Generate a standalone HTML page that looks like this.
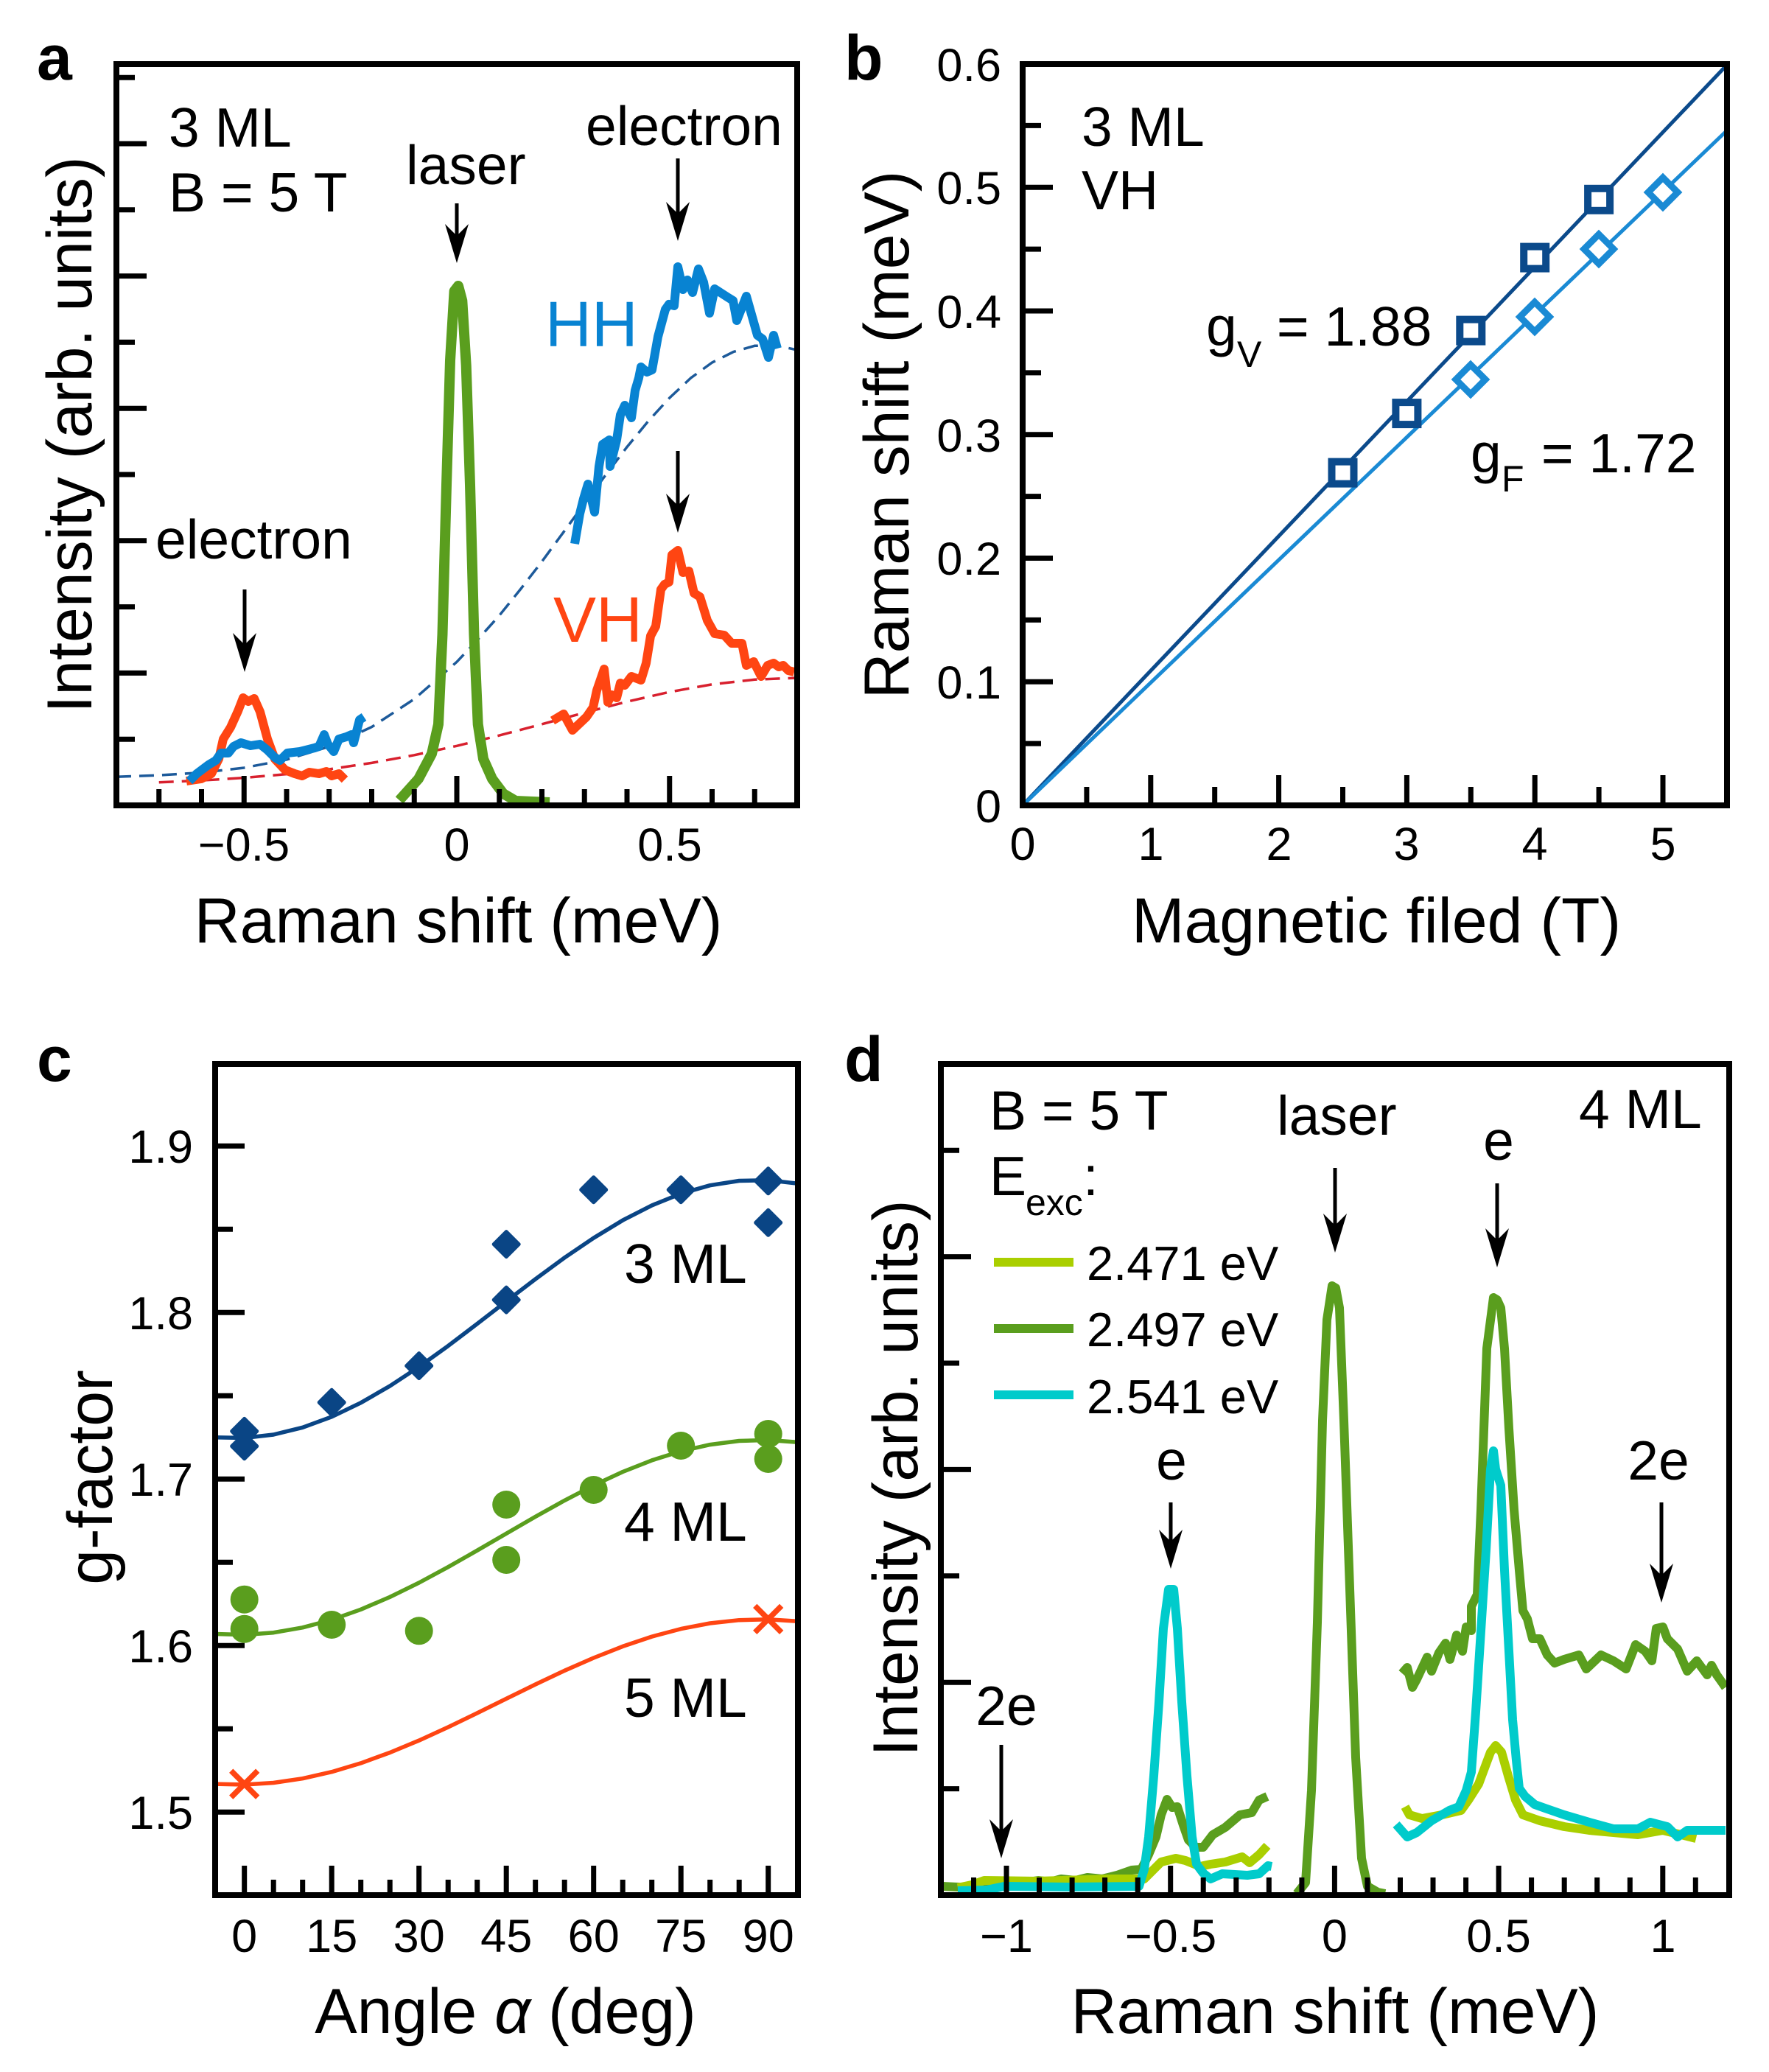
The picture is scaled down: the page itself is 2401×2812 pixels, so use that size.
<!DOCTYPE html>
<html><head><meta charset="utf-8"><style>
html,body{margin:0;padding:0;background:#fff;}
svg{display:block;}
text{font-family:"Liberation Sans",Arial,sans-serif;fill:#000;}
</style></head><body>
<svg width="2401" height="2812" viewBox="0 0 2401 2812" xmlns="http://www.w3.org/2000/svg">
<rect width="2401" height="2812" fill="#fff"/>

<!-- ================= PANEL A ================= -->
<text x="50" y="108" font-size="86" font-weight="bold">a</text>
<g fill="none" stroke-width="3.5" stroke-dasharray="20 11">
<polyline stroke="#1d5a9a" points="158,1054.2 215.75,1052.2 273.5,1048.5 331.25,1042 389,1030.9 446.75,1013.2 504.5,986.6 562.25,948.7 620,898.3 648.9,867.5 677.75,835.3 706.6,799.5 735.5,762.1 764.4,722.8 793.25,683.5 822.1,644.5 851,606.6 879.9,571.5 908.75,540 937.6,513 966.5,492 995.4,477.5 1024.25,469.3 1053.1,468.6 1082,475"/>
<polyline stroke="#d8202e" points="215.75,1061.7 273.5,1059.2 331.25,1055.6 389,1050.6 446.75,1044 504.5,1035.4 562.25,1024.8 620,1012.3 677.75,998.1 735.5,982.8 793.25,967.2 851,952.3 908.75,939.1 966.5,928.8 1024.25,922.3 1082,920"/>
</g>
<g fill="none" stroke-width="12" stroke-linejoin="round" stroke-linecap="butt">
<polyline stroke="#ff4512" points="253,1060 273,1057 287,1050 297,1030 303,1003 313,987 323,965 330,947 337,952 345,948 353,966 363,1003 373,1030 387,1045 400,1050 410,1053 420,1048 433,1050 443,1047 450,1053 460,1050 468,1058"/>
<polyline stroke="#ff4512" points="750,978 765,969 777,991 796,973 805,960 810,937 820,908 825,953 830,943 837,947 842,927 848,930 857,918 870,923 877,900 883,863 890,850 897,800 902,793 908,790 912,753 920,747 927,777 935,775 942,805 950,810 960,842 970,860 983,862 993,873 1007,873 1013,903 1023,898 1033,918 1042,903 1050,900 1057,905 1063,903 1070,910 1078,912"/>
<polyline stroke="#0883d2" points="257,1060 267,1050 283,1038 293,1032 300,1022 310,1022 317,1013 327,1008 340,1012 353,1010 363,1018 373,1028 380,1032 390,1022 407,1020 427,1015 433,1013 440,997 445,1010 453,1020 460,1003 470,1000 477,997 480,1008 488,977 494,973"/>
<polyline stroke="#0883d2" points="780,738 787,697 792,677 798,657 807,695 813,633 818,603 827,597 828,633 837,597 842,563 848,550 857,567 862,530 867,513 870,498 878,505 885,502 893,457 903,420 908,413 915,415 920,362 927,393 933,380 940,397 948,365 955,383 963,425 970,392 987,403 995,408 1000,435 1013,402 1028,455 1035,460 1043,485 1050,455 1055,473"/>
<polyline stroke="#5a9e1e" stroke-width="14" points="542,1086 568,1057 586,1023 595,983 600.5,861 606,658 611,489 616.6,395 622,388 627.3,408 632.7,496 638,658 643.4,861 648.7,983 656,1030 668,1057 683,1077 700,1087 746,1089"/>
</g>
<!-- frame & ticks -->
<g stroke="#000" stroke-width="7" fill="none">
<path d="M215.75,1093v-22M273.5,1093v-22M331.25,1093v-40M389,1093v-22M446.75,1093v-22M504.5,1093v-22M562.25,1093v-22M620,1093v-40M677.75,1093v-22M735.5,1093v-22M793.25,1093v-22M851,1093v-22M908.75,1093v-40M966.5,1093v-22M1024.25,1093v-22"/>
<path d="M158,1003.2h25M158,913.4h41M158,823.6h25M158,733.8h41M158,644h25M158,554.2h41M158,464.4h25M158,374.6h41M158,284.8h25M158,195h41M158,105.2h25"/>
<rect x="158" y="87" width="924" height="1006" stroke-width="8"/>
</g>
<g font-size="63" text-anchor="middle">
<text x="331" y="1168">−0.5</text><text x="620" y="1168">0</text><text x="909" y="1168">0.5</text>
</g>
<text x="622" y="1279" font-size="86" text-anchor="middle">Raman shift (meV)</text>
<text transform="translate(124,590) rotate(-90)" font-size="86" text-anchor="middle">Intensity (arb. units)</text>
<g font-size="75">
<text x="229" y="199">3 ML</text>
<text x="229" y="287">B = 5 T</text>
<text x="551" y="250">laser</text>
<text x="795" y="197">electron</text>
<text x="211" y="758">electron</text>
</g>
<text x="740" y="470" font-size="87" fill="#0883d2" style="fill:#0883d2">HH</text>
<text x="751" y="871" font-size="87" fill="#ff4512" style="fill:#ff4512">VH</text>
<g stroke="#000" stroke-width="5">
<path d="M620,276V330M920,215V300M920,612V696M332,800V885"/>
</g>
<g fill="#000">
<polygon points="620,357 604,304 620,320 636,304"/>
<polygon points="920,327 904,274 920,290 936,274"/>
<polygon points="920,723 904,670 920,686 936,670"/>
<polygon points="332,912 316,859 332,875 348,859"/>
</g>

<!-- ================= PANEL B ================= -->
<text x="1146" y="108" font-size="86" font-weight="bold">b</text>
<g fill="none" stroke-width="5">
<line x1="1388" y1="1093" x2="2344" y2="88" stroke="#0b4a8b"/>
<line x1="1388" y1="1093" x2="2344" y2="177" stroke="#1a8ad4"/>
</g>
<g fill="#fff" stroke="#0b4a8b" stroke-width="10">
<rect x="1807.5" y="626.6" width="30" height="30"/>
<rect x="1894.4" y="546.1" width="30" height="30"/>
<rect x="1981.3" y="433.6" width="30" height="30"/>
<rect x="2068.2" y="334.6" width="30" height="30"/>
<rect x="2155.1" y="255.8" width="30" height="30"/>
</g>
<g fill="#fff" stroke="#1a8ad4" stroke-width="9" stroke-linejoin="miter">
<polygon points="1996,495 2016,515 1996,535 1976,515"/>
<polygon points="2083,410 2103,430 2083,450 2063,430"/>
<polygon points="2170,318 2190,338 2170,358 2150,338"/>
<polygon points="2257,241 2277,261 2257,281 2237,261"/>
</g>
<g stroke="#000" stroke-width="7" fill="none">
<path d="M1474.9,1093v-25M1561.8,1093v-41M1648.7,1093v-25M1735.6,1093v-41M1822.5,1093v-25M1909.4,1093v-41M1996.3,1093v-25M2083.2,1093v-41M2170.1,1093v-25M2257,1093v-41"/>
<path d="M1388,1009.1h25M1388,925.25h41M1388,841.4h25M1388,757.5h41M1388,673.6h25M1388,589.75h41M1388,505.9h25M1388,422h41M1388,338.1h25M1388,254.25h41M1388,170.4h25"/>
<rect x="1388" y="87" width="956" height="1006" stroke-width="8"/>
</g>
<g font-size="63" text-anchor="end">
<text x="1359" y="1116">0</text><text x="1359" y="948">0.1</text><text x="1359" y="780">0.2</text><text x="1359" y="613">0.3</text><text x="1359" y="445">0.4</text><text x="1359" y="277">0.5</text><text x="1359" y="110">0.6</text>
</g>
<g font-size="63" text-anchor="middle">
<text x="1388" y="1167">0</text><text x="1562" y="1167">1</text><text x="1736" y="1167">2</text><text x="1909" y="1167">3</text><text x="2083" y="1167">4</text><text x="2257" y="1167">5</text>
</g>
<text x="1868" y="1279" font-size="86" text-anchor="middle">Magnetic filed (T)</text>
<text transform="translate(1233,590) rotate(-90)" font-size="86" text-anchor="middle">Raman shift (meV)</text>
<g font-size="75">
<text x="1468" y="198">3 ML</text>
<text x="1468" y="284">VH</text>
<text x="1637" y="469">g</text>
<text x="1712" y="469" xml:space="preserve"> = 1.88</text>
<text x="1996" y="641">g</text>
<text x="2071" y="641" xml:space="preserve"> = 1.72</text>
</g>
<text x="1679" y="498" font-size="50">V</text>
<text x="2038" y="667" font-size="50">F</text>

<!-- ================= PANEL C ================= -->
<text x="50" y="1467" font-size="86" font-weight="bold">c</text>
<g fill="none" stroke-width="5.5" stroke-linejoin="round">
<polyline stroke="#0a4585" points="292.2,1950.7 331.7,1951.5 371.2,1947 410.7,1937.3 450.2,1922.8 489.7,1903.8 529.2,1881 568.7,1855 608.2,1826.6 647.7,1796.6 687.2,1766.1 726.7,1735.9 766.2,1706.9 805.7,1680.1 845.2,1656.1 884.7,1635.9 924.2,1619.9 963.7,1608.7 1003.2,1602.5 1042.7,1601.7 1082.2,1606.2"/>
<polyline stroke="#5a9e1e" points="292.2,2217.5 331.7,2218.6 371.2,2215.7 410.7,2208.8 450.2,2198.3 489.7,2184.3 529.2,2167.4 568.7,2148 608.2,2126.7 647.7,2104.2 687.2,2081.2 726.7,2058.4 766.2,2036.4 805.7,2015.9 845.2,1997.5 884.7,1981.9 924.2,1969.5 963.7,1960.6 1003.2,1955.5 1042.7,1954.4 1082.2,1957.3"/>
<polyline stroke="#ff4512" points="292.2,2421.1 331.7,2422 371.2,2419.5 410.7,2413.7 450.2,2404.7 489.7,2392.9 529.2,2378.5 568.7,2362.1 608.2,2344 647.7,2324.9 687.2,2305.4 726.7,2286 766.2,2267.3 805.7,2250 845.2,2234.4 884.7,2221.1 924.2,2210.6 963.7,2203 1003.2,2198.7 1042.7,2197.8 1082.2,2200.3"/>
</g>
<g fill="#0a4585" stroke="#0a4585" stroke-width="5" stroke-linejoin="round">
<polygon points="331.7,1925.4 348.7,1942.4 331.7,1959.4 314.7,1942.4"/>
<polygon points="331.7,1945.7 348.7,1962.7 331.7,1979.7 314.7,1962.7"/>
<polygon points="450.2,1886.3 467.2,1903.3 450.2,1920.3 433.2,1903.3"/>
<polygon points="568.7,1836.6 585.7,1853.6 568.7,1870.6 551.7,1853.6"/>
<polygon points="687.2,1671.6 704.2,1688.6 687.2,1705.6 670.2,1688.6"/>
<polygon points="687.2,1747.1 704.2,1764.1 687.2,1781.1 670.2,1764.1"/>
<polygon points="805.7,1597.7 822.7,1614.7 805.7,1631.7 788.7,1614.7"/>
<polygon points="924.2,1597.7 941.2,1614.7 924.2,1631.7 907.2,1614.7"/>
<polygon points="1042.7,1585.8 1059.7,1602.8 1042.7,1619.8 1025.7,1602.8"/>
<polygon points="1042.7,1642.3 1059.7,1659.3 1042.7,1676.3 1025.7,1659.3"/>
</g>
<g fill="#5a9e1e">
<circle cx="331.7" cy="2170.7" r="19"/><circle cx="331.7" cy="2210.7" r="19"/>
<circle cx="450.2" cy="2205" r="19"/><circle cx="568.7" cy="2213.3" r="19"/>
<circle cx="687.2" cy="2042" r="19"/><circle cx="687.2" cy="2117" r="19"/>
<circle cx="805.7" cy="2022" r="19"/><circle cx="924.2" cy="1962" r="19"/>
<circle cx="1042.7" cy="1946" r="19"/><circle cx="1042.7" cy="1980" r="19"/>
</g>
<g stroke="#ff4512" stroke-width="7.5" stroke-linecap="butt">
<path d="M313.7,2403.2L349.7,2439.2M349.7,2403.2L313.7,2439.2"/>
<path d="M1024.7,2179.4L1060.7,2215.4M1060.7,2179.4L1024.7,2215.4"/>
</g>
<g stroke="#000" stroke-width="7" fill="none">
<path d="M331.7,2572v-40M371.2,2572v-21M410.7,2572v-21M450.2,2572v-40M489.7,2572v-21M529.2,2572v-21M568.7,2572v-40M608.2,2572v-21M647.7,2572v-21M687.2,2572v-40M726.7,2572v-21M766.2,2572v-21M805.7,2572v-40M845.2,2572v-21M884.7,2572v-21M924.2,2572v-40M963.7,2572v-21M1003.2,2572v-21M1042.7,2572v-40"/>
<path d="M292,2459.3h40M292,2346.3h24M292,2233.3h40M292,2120.3h24M292,2007.3h40M292,1894.3h24M292,1781.3h40M292,1668.3h24M292,1555.3h40"/>
<rect x="292" y="1444" width="791" height="1128" stroke-width="8"/>
</g>
<g font-size="63" text-anchor="end">
<text x="262" y="2482">1.5</text><text x="262" y="2256">1.6</text><text x="262" y="2030">1.7</text><text x="262" y="1804">1.8</text><text x="262" y="1578">1.9</text>
</g>
<g font-size="63" text-anchor="middle">
<text x="331.7" y="2649">0</text><text x="450.2" y="2649">15</text><text x="568.7" y="2649">30</text><text x="687.2" y="2649">45</text><text x="805.7" y="2649">60</text><text x="924.2" y="2649">75</text><text x="1042.7" y="2649">90</text>
</g>
<text x="686" y="2759" font-size="86" text-anchor="middle">Angle <tspan font-style="italic">α</tspan> (deg)</text>
<text transform="translate(152,2005) rotate(-90)" font-size="86" text-anchor="middle">g-factor</text>
<g font-size="75">
<text x="847" y="1741">3 ML</text>
<text x="847" y="2091">4 ML</text>
<text x="847" y="2330">5 ML</text>
</g>

<!-- ================= PANEL D ================= -->
<text x="1146" y="1467" font-size="86" font-weight="bold">d</text>
<g fill="none" stroke-width="12" stroke-linejoin="round">
<!-- dark green -->
<polyline stroke="#5a9e1e" points="1279,2560 1300,2561 1319,2562 1336,2553 1355,2556 1370,2553 1390,2555 1409,2552 1425,2554 1440,2550 1460,2552 1476,2548 1496,2550 1516,2545 1536,2538 1549,2537 1559,2517 1569,2493 1576,2463 1584,2442 1591,2453 1598,2452 1606,2477 1613,2497 1623,2507 1633,2507 1646,2490 1663,2480 1683,2463 1699,2460 1709,2443 1720,2438"/>
<polyline stroke="#5a9e1e" points="1760,2570 1772,2555 1780,2430 1788,2202 1795,1928 1801,1791 1808,1745 1813,1748 1818,1775 1824,1928 1832,2156 1840,2385 1848,2522 1856,2560 1870,2568 1880,2570"/>
<polyline stroke="#5a9e1e" points="1903,2271 1910,2263 1917,2290 1923,2279 1937,2249 1943,2268 1953,2243 1962,2230 1968,2252 1977,2219 1985,2241 1990,2208 1997,2213 1997,2180 2005,2164 2010,2049 2018,1830 2027,1761 2032,1764 2037,1775 2042,1830 2048,1939 2055,2049 2062,2131 2067,2186 2073,2197 2080,2224 2090,2224 2100,2246 2110,2257 2123,2252 2143,2246 2153,2265 2173,2246 2190,2254 2207,2265 2220,2232 2233,2241 2242,2254 2248,2210 2257,2208 2263,2224 2277,2238 2290,2268 2303,2254 2317,2273 2323,2260 2330,2273 2342,2290"/>
<!-- yellow-green -->
<polyline stroke="#aacf00" points="1300,2562 1319,2558 1336,2552 1409,2553 1509,2550 1553,2550 1566,2537 1576,2527 1596,2522 1609,2525 1629,2533 1643,2530 1663,2527 1686,2520 1696,2528 1709,2517 1720,2505"/>
<polyline stroke="#aacf00" points="1907,2452 1913,2463 1930,2468 1957,2463 1983,2457 1993,2443 2007,2421 2017,2394 2023,2378 2030,2369 2038,2378 2047,2410 2057,2443 2067,2463 2090,2471 2123,2479 2157,2484 2190,2487 2223,2490 2257,2484 2302,2495"/>
<!-- cyan -->
<polyline stroke="#00cbcb" points="1300,2566 1339,2565 1363,2560 1450,2561 1546,2560 1553,2537 1559,2493 1566,2410 1573,2310 1579,2210 1586,2157 1593,2157 1598,2210 1604,2310 1611,2410 1618,2493 1624,2530 1633,2542 1643,2550 1659,2543 1693,2545 1709,2543 1721,2532 1726,2533"/>
<polyline stroke="#00cbcb" points="1895,2476 1910,2493 1923,2487 1943,2471 1967,2457 1980,2452 1990,2430 1997,2405 2003,2323 2010,2213 2017,2104 2023,1994 2027,1969 2030,1994 2037,2016 2042,2131 2048,2241 2053,2334 2058,2389 2062,2427 2070,2438 2083,2449 2097,2454 2123,2463 2157,2473 2190,2482 2223,2482 2240,2473 2263,2479 2277,2493 2290,2484 2310,2484 2342,2484"/>
</g>
<!-- legend -->
<g stroke-width="12">
<line x1="1349" y1="1713" x2="1457" y2="1713" stroke="#aacf00"/>
<line x1="1349" y1="1803" x2="1457" y2="1803" stroke="#5a9e1e"/>
<line x1="1349" y1="1893" x2="1457" y2="1893" stroke="#00cbcb"/>
</g>
<g font-size="65">
<text x="1475" y="1737">2.471 eV</text>
<text x="1475" y="1827">2.497 eV</text>
<text x="1475" y="1918">2.541 eV</text>
</g>
<g stroke="#000" stroke-width="7" fill="none">
<path d="M1321.5,2572v-24M1366,2572v-40M1410.5,2572v-24M1455.1,2572v-24M1499.6,2572v-24M1544.2,2572v-24M1588.7,2572v-40M1633.2,2572v-24M1677.8,2572v-24M1722.3,2572v-24M1766.9,2572v-24M1811.4,2572v-40M1855.9,2572v-24M1900.5,2572v-24M1945,2572v-24M1989.6,2572v-24M2034.1,2572v-40M2078.6,2572v-24M2123.2,2572v-24M2167.7,2572v-24M2212.3,2572v-24M2256.8,2572v-40M2301.3,2572v-24"/>
<path d="M1277,2427.6h25M1277,2283.2h41M1277,2138.8h25M1277,1994.4h41M1277,1850h25M1277,1705.6h41M1277,1561.2h25"/>
<rect x="1277" y="1444" width="1070" height="1128" stroke-width="8"/>
</g>
<g font-size="63" text-anchor="middle">
<text x="1366" y="2649">−1</text><text x="1589" y="2649">−0.5</text><text x="1811.4" y="2649">0</text><text x="2034" y="2649">0.5</text><text x="2257" y="2649">1</text>
</g>
<text x="1812" y="2759" font-size="86" text-anchor="middle">Raman shift (meV)</text>
<text transform="translate(1245,2006) rotate(-90)" font-size="86" text-anchor="middle">Intensity (arb. units)</text>
<g font-size="75">
<text x="1343" y="1533">B = 5 T</text>
<text x="1343" y="1622">E</text>
<text x="1470" y="1622">:</text>
<text x="1733" y="1540">laser</text>
<text x="2143" y="1531">4 ML</text>
<text x="2034" y="1574" text-anchor="middle">e</text>
<text x="1590" y="2008" text-anchor="middle">e</text>
<text x="2251" y="2008" text-anchor="middle">2e</text>
<text x="1366" y="2341" text-anchor="middle">2e</text>
</g>
<text x="1392" y="1649" font-size="50">exc</text>
<g stroke="#000" stroke-width="5">
<path d="M1812,1585V1673M2032,1606V1693M1589,2039V2102M2255,2039V2148M1359,2368V2495"/>
</g>
<g fill="#000">
<polygon points="1812,1700 1796,1647 1812,1663 1828,1647"/>
<polygon points="2032,1720 2016,1667 2032,1683 2048,1667"/>
<polygon points="1589,2129 1573,2076 1589,2092 1605,2076"/>
<polygon points="2255,2175 2239,2122 2255,2138 2271,2122"/>
<polygon points="1359,2522 1343,2469 1359,2485 1375,2469"/>
</g>
</svg>
</body></html>
